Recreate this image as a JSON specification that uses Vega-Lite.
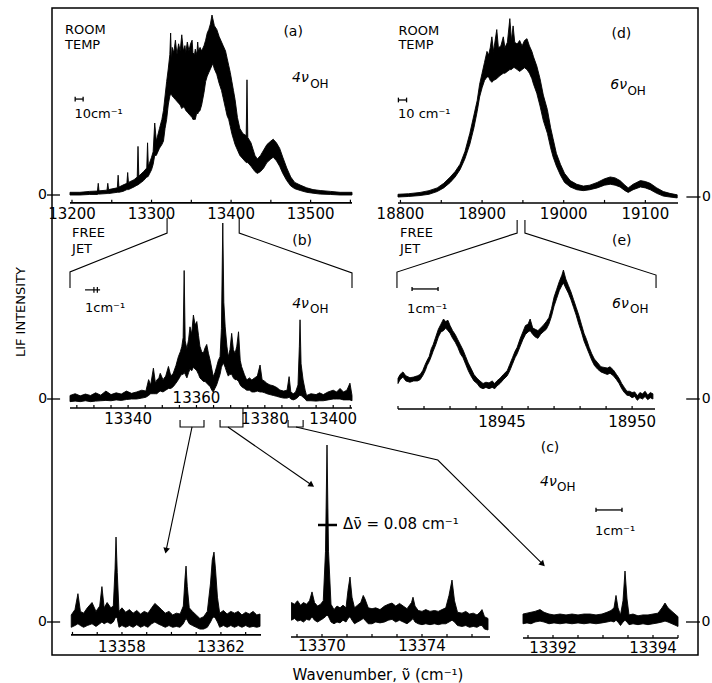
{
"$schema":"https://vega.github.io/schema/vega-lite/v6.json",
"width":646,"height":647,"autosize":"none",
"padding":{"left":52,"top":8,"right":14,"bottom":28},
"background":"white",
"config":{"view":{"stroke":"black","strokeWidth":1.5},"mark":{"color":"black"},"text":{"font":"DejaVu Sans","fontSize":14,"color":"black"},"rule":{"color":"black"}},
"data":{"values":[{}]},
"datasets":{
"a":[{"x":13197.5,"lo":0,"hi":1.5},{"x":13210,"lo":0,"hi":1.5},{"x":13222,"lo":0.3,"hi":2},{"x":13232,"lo":0.3,"hi":2.2},{"x":13233,"lo":0.5,"hi":6.5},{"x":13234,"lo":0.5,"hi":2.3},{"x":13244,"lo":0.8,"hi":2.7},{"x":13245,"lo":0.8,"hi":6.5},{"x":13246,"lo":0.8,"hi":3},{"x":13257,"lo":1.5,"hi":4},{"x":13258,"lo":1.5,"hi":11},{"x":13259,"lo":1.5,"hi":4.4},{"x":13264,"lo":2,"hi":5.5},{"x":13269,"lo":3,"hi":6.5},{"x":13270,"lo":3,"hi":12.5},{"x":13271,"lo":3,"hi":7},{"x":13278,"lo":4.5,"hi":8.5},{"x":13282,"lo":5.5,"hi":10},{"x":13283,"lo":5.5,"hi":27},{"x":13284,"lo":6,"hi":10.5},{"x":13290,"lo":8,"hi":13},{"x":13294,"lo":10,"hi":15},{"x":13295,"lo":10,"hi":29},{"x":13296,"lo":10.5,"hi":16},{"x":13300,"lo":14,"hi":21},{"x":13302,"lo":17,"hi":24},{"x":13304,"lo":22,"hi":40},{"x":13306,"lo":22,"hi":30},{"x":13310,"lo":26,"hi":37},{"x":13313,"lo":28,"hi":42},{"x":13315,"lo":30,"hi":47},{"x":13317,"lo":37,"hi":55},{"x":13319,"lo":42,"hi":63},{"x":13321,"lo":50,"hi":70},{"x":13323,"lo":55,"hi":78},{"x":13324,"lo":56,"hi":90},{"x":13325,"lo":56,"hi":75},{"x":13326,"lo":55,"hi":82},{"x":13328,"lo":54,"hi":79},{"x":13330,"lo":53,"hi":86},{"x":13332,"lo":52,"hi":78},{"x":13334,"lo":51,"hi":84},{"x":13336,"lo":50,"hi":80},{"x":13338,"lo":48,"hi":89},{"x":13340,"lo":49,"hi":80},{"x":13342,"lo":48,"hi":83},{"x":13343,"lo":47,"hi":79},{"x":13345,"lo":46,"hi":85},{"x":13347,"lo":45,"hi":80},{"x":13349,"lo":44,"hi":84},{"x":13351,"lo":43,"hi":86},{"x":13352,"lo":42,"hi":79},{"x":13354,"lo":42,"hi":78},{"x":13355,"lo":42,"hi":81},{"x":13357,"lo":46,"hi":78},{"x":13358,"lo":45,"hi":85},{"x":13359,"lo":46,"hi":80},{"x":13361,"lo":47,"hi":82},{"x":13363,"lo":50,"hi":80},{"x":13366,"lo":57,"hi":83},{"x":13368,"lo":63,"hi":86},{"x":13370,"lo":66,"hi":90},{"x":13372,"lo":68,"hi":92},{"x":13374,"lo":70,"hi":95},{"x":13376,"lo":72,"hi":100},{"x":13377,"lo":73,"hi":98},{"x":13379,"lo":70,"hi":94},{"x":13382,"lo":67,"hi":92},{"x":13385,"lo":62,"hi":88},{"x":13388,"lo":58,"hi":85},{"x":13390,"lo":54,"hi":83},{"x":13393,"lo":48,"hi":80},{"x":13395,"lo":44,"hi":76},{"x":13397,"lo":42,"hi":72},{"x":13399,"lo":38,"hi":68},{"x":13401,"lo":34,"hi":63},{"x":13403,"lo":31,"hi":58},{"x":13405,"lo":28,"hi":53},{"x":13408,"lo":25,"hi":43},{"x":13411,"lo":22,"hi":37},{"x":13415,"lo":20,"hi":34},{"x":13419,"lo":18,"hi":33},{"x":13420,"lo":18,"hi":64},{"x":13421,"lo":18,"hi":32},{"x":13425,"lo":16,"hi":29},{"x":13430,"lo":13,"hi":22},{"x":13433,"lo":12,"hi":20},{"x":13437,"lo":13,"hi":22},{"x":13441,"lo":15,"hi":25},{"x":13445,"lo":18,"hi":28},{"x":13450,"lo":20,"hi":30},{"x":13453,"lo":21,"hi":31},{"x":13457,"lo":19,"hi":29},{"x":13461,"lo":16,"hi":26},{"x":13465,"lo":12,"hi":21},{"x":13470,"lo":8,"hi":15},{"x":13475,"lo":5,"hi":10},{"x":13480,"lo":3.5,"hi":7},{"x":13487,"lo":2.5,"hi":5.5},{"x":13495,"lo":1.5,"hi":4},{"x":13503,"lo":1,"hi":3},{"x":13512,"lo":0.5,"hi":2.5},{"x":13525,"lo":0.3,"hi":2},{"x":13537,"lo":0,"hi":1.5},{"x":13552,"lo":0,"hi":1.5}],
"d":[{"x":18797,"lo":0,"hi":1.5},{"x":18810,"lo":0.3,"hi":1.8},{"x":18824,"lo":0.8,"hi":2.5},{"x":18835,"lo":1.5,"hi":3.5},{"x":18845,"lo":3,"hi":5},{"x":18853,"lo":5,"hi":7.5},{"x":18861,"lo":8,"hi":11},{"x":18867,"lo":11,"hi":14},{"x":18873,"lo":15,"hi":18},{"x":18879,"lo":21,"hi":25},{"x":18885,"lo":29,"hi":35},{"x":18890,"lo":38,"hi":45},{"x":18894,"lo":47,"hi":53},{"x":18897,"lo":55,"hi":62},{"x":18900,"lo":60,"hi":68},{"x":18903,"lo":64,"hi":74},{"x":18906,"lo":66,"hi":80},{"x":18908,"lo":66,"hi":78},{"x":18910,"lo":64,"hi":82},{"x":18912,"lo":63,"hi":88},{"x":18914,"lo":64,"hi":80},{"x":18918,"lo":65,"hi":92},{"x":18920,"lo":66,"hi":82},{"x":18923,"lo":67,"hi":83},{"x":18926,"lo":68,"hi":88},{"x":18928,"lo":68,"hi":82},{"x":18931,"lo":69,"hi":85},{"x":18934,"lo":70,"hi":98},{"x":18936,"lo":70,"hi":86},{"x":18938,"lo":71,"hi":94},{"x":18940,"lo":71,"hi":85},{"x":18943,"lo":70,"hi":84},{"x":18946,"lo":69,"hi":86},{"x":18949,"lo":70,"hi":83},{"x":18952,"lo":71,"hi":86},{"x":18955,"lo":70,"hi":87},{"x":18958,"lo":68,"hi":83},{"x":18961,"lo":65,"hi":80},{"x":18963,"lo":62,"hi":77},{"x":18967,"lo":57,"hi":72},{"x":18971,"lo":50,"hi":65},{"x":18975,"lo":42,"hi":56},{"x":18980,"lo":35,"hi":48},{"x":18984,"lo":27,"hi":38},{"x":18987,"lo":22,"hi":32},{"x":18991,"lo":17,"hi":24},{"x":18996,"lo":12,"hi":18},{"x":19001,"lo":8,"hi":13},{"x":19008,"lo":5.5,"hi":9},{"x":19016,"lo":4,"hi":7},{"x":19024,"lo":3.5,"hi":6},{"x":19032,"lo":4,"hi":6.5},{"x":19041,"lo":5,"hi":8},{"x":19050,"lo":6.5,"hi":10},{"x":19057,"lo":7,"hi":11},{"x":19063,"lo":6.5,"hi":10.5},{"x":19069,"lo":5.5,"hi":9},{"x":19075,"lo":3.5,"hi":6.5},{"x":19079,"lo":2.5,"hi":5},{"x":19085,"lo":4,"hi":7},{"x":19094,"lo":5.5,"hi":9},{"x":19100,"lo":5,"hi":8.5},{"x":19106,"lo":4,"hi":7.5},{"x":19114,"lo":2,"hi":5},{"x":19122,"lo":0.5,"hi":3},{"x":19130,"lo":0,"hi":2},{"x":19139,"lo":-0.5,"hi":1.2}],
"b":[{"x":13323,"lo":-1.5,"hi":2},{"x":13324.5,"lo":-1.2,"hi":3},{"x":13326,"lo":-1.5,"hi":1.8},{"x":13327.5,"lo":-1,"hi":2.8},{"x":13329,"lo":-1.5,"hi":2},{"x":13330.5,"lo":-1.2,"hi":3.5},{"x":13332,"lo":-1,"hi":2.2},{"x":13333.5,"lo":-0.8,"hi":4.5},{"x":13335,"lo":-1,"hi":2.5},{"x":13336.5,"lo":-0.5,"hi":3.5},{"x":13338,"lo":-0.8,"hi":2.8},{"x":13339.5,"lo":-0.3,"hi":4.5},{"x":13341,"lo":0,"hi":3.2},{"x":13342.5,"lo":0,"hi":4},{"x":13344,"lo":0.5,"hi":5},{"x":13345.2,"lo":1,"hi":4.5},{"x":13346,"lo":2,"hi":11},{"x":13346.6,"lo":3,"hi":8},{"x":13347.4,"lo":3,"hi":17.5},{"x":13348,"lo":3,"hi":9},{"x":13348.4,"lo":3,"hi":10.8},{"x":13349,"lo":4,"hi":12},{"x":13349.4,"lo":4.5,"hi":14.6},{"x":13350.2,"lo":4,"hi":11},{"x":13351,"lo":5,"hi":13},{"x":13351.8,"lo":6,"hi":18.5},{"x":13352.5,"lo":6,"hi":13},{"x":13353.2,"lo":7,"hi":14.6},{"x":13354,"lo":9,"hi":19},{"x":13354.7,"lo":11,"hi":24},{"x":13355.3,"lo":13,"hi":27},{"x":13355.7,"lo":14,"hi":29.7},{"x":13356.1,"lo":14,"hi":35},{"x":13356.4,"lo":15,"hi":73},{"x":13356.7,"lo":14,"hi":33},{"x":13357.2,"lo":12,"hi":28.5},{"x":13357.7,"lo":15,"hi":34},{"x":13358.1,"lo":17,"hi":41},{"x":13358.6,"lo":16,"hi":37},{"x":13359.1,"lo":18,"hi":47.7},{"x":13359.6,"lo":17,"hi":42},{"x":13360.1,"lo":16,"hi":44},{"x":13360.6,"lo":14,"hi":36},{"x":13361,"lo":12,"hi":30},{"x":13361.5,"lo":11,"hi":27},{"x":13362,"lo":10,"hi":26},{"x":13362.5,"lo":10,"hi":29},{"x":13363,"lo":9,"hi":31},{"x":13363.5,"lo":8,"hi":26},{"x":13364,"lo":7,"hi":22},{"x":13364.5,"lo":5,"hi":17},{"x":13364.9,"lo":4,"hi":12.7},{"x":13365.4,"lo":6,"hi":15},{"x":13365.9,"lo":8,"hi":18.4},{"x":13366.4,"lo":11,"hi":22},{"x":13366.9,"lo":14,"hi":24},{"x":13367.3,"lo":18,"hi":40},{"x":13367.7,"lo":20,"hi":100},{"x":13368,"lo":20,"hi":55},{"x":13368.4,"lo":18,"hi":41},{"x":13368.9,"lo":15,"hi":30},{"x":13369.3,"lo":13,"hi":24},{"x":13369.8,"lo":14,"hi":28},{"x":13370.3,"lo":14,"hi":37.3},{"x":13370.8,"lo":12,"hi":28},{"x":13371.3,"lo":11,"hi":26},{"x":13371.8,"lo":11,"hi":30},{"x":13372.3,"lo":10,"hi":38.2},{"x":13372.8,"lo":8,"hi":22},{"x":13373.2,"lo":7,"hi":18.4},{"x":13374,"lo":6,"hi":14},{"x":13374.7,"lo":5,"hi":10.8},{"x":13375.5,"lo":5,"hi":12},{"x":13376.2,"lo":4,"hi":10.8},{"x":13377,"lo":4,"hi":12},{"x":13377.8,"lo":4.5,"hi":13},{"x":13378.6,"lo":4,"hi":19.3},{"x":13379.2,"lo":4,"hi":11},{"x":13380,"lo":3.5,"hi":10},{"x":13380.6,"lo":3,"hi":8.9},{"x":13381.5,"lo":2.5,"hi":8},{"x":13382.5,"lo":2,"hi":7.5},{"x":13383.5,"lo":1.5,"hi":6.5},{"x":13384.4,"lo":1,"hi":5.1},{"x":13385.5,"lo":0.5,"hi":4.5},{"x":13386.5,"lo":0.5,"hi":5},{"x":13387.1,"lo":1,"hi":12.7},{"x":13387.6,"lo":0,"hi":4},{"x":13388.3,"lo":-0.5,"hi":3},{"x":13389,"lo":0,"hi":4},{"x":13389.7,"lo":1,"hi":8},{"x":13390.1,"lo":2,"hi":30},{"x":13390.3,"lo":2,"hi":45},{"x":13390.6,"lo":2,"hi":20},{"x":13391.2,"lo":1,"hi":10.8},{"x":13391.8,"lo":0,"hi":5},{"x":13392.2,"lo":-1,"hi":2},{"x":13393.5,"lo":-1,"hi":3},{"x":13395,"lo":-1.2,"hi":2.5},{"x":13396,"lo":-1,"hi":3.5},{"x":13397.1,"lo":-1,"hi":2.5},{"x":13398.5,"lo":-0.5,"hi":4},{"x":13400,"lo":0,"hi":5},{"x":13401,"lo":0,"hi":4},{"x":13402,"lo":0,"hi":6},{"x":13403,"lo":-0.5,"hi":4},{"x":13404,"lo":-0.5,"hi":5},{"x":13404.9,"lo":-0.5,"hi":9},{"x":13405.5,"lo":-1,"hi":2}],
"e":[{"x":18941,"lo":12,"hi":16},{"x":18941.08,"lo":15,"hi":19},{"x":18941.19,"lo":17,"hi":21},{"x":18941.3,"lo":14,"hi":18},{"x":18941.46,"lo":13,"hi":16.5},{"x":18941.6,"lo":14,"hi":17},{"x":18941.75,"lo":14,"hi":18},{"x":18941.85,"lo":15,"hi":19},{"x":18941.95,"lo":18,"hi":22},{"x":18942.05,"lo":22,"hi":27},{"x":18942.12,"lo":26,"hi":30},{"x":18942.2,"lo":29,"hi":33},{"x":18942.28,"lo":33,"hi":39},{"x":18942.35,"lo":37,"hi":42},{"x":18942.45,"lo":42,"hi":48},{"x":18942.55,"lo":48,"hi":54},{"x":18942.65,"lo":52,"hi":58},{"x":18942.75,"lo":53,"hi":62},{"x":18942.83,"lo":55,"hi":60},{"x":18942.92,"lo":53,"hi":61},{"x":18943,"lo":51,"hi":57},{"x":18943.1,"lo":47,"hi":53},{"x":18943.2,"lo":44,"hi":50},{"x":18943.3,"lo":40,"hi":46},{"x":18943.4,"lo":35,"hi":42},{"x":18943.5,"lo":32,"hi":38},{"x":18943.6,"lo":27,"hi":33},{"x":18943.7,"lo":22,"hi":28},{"x":18943.8,"lo":18,"hi":24},{"x":18943.92,"lo":14,"hi":19},{"x":18944.04,"lo":12,"hi":16},{"x":18944.15,"lo":9,"hi":14},{"x":18944.27,"lo":8,"hi":12},{"x":18944.38,"lo":9,"hi":13},{"x":18944.5,"lo":8,"hi":12.5},{"x":18944.62,"lo":9,"hi":14},{"x":18944.72,"lo":8,"hi":12},{"x":18944.8,"lo":10,"hi":14},{"x":18944.92,"lo":12,"hi":16},{"x":18945.05,"lo":15,"hi":19},{"x":18945.2,"lo":18,"hi":22},{"x":18945.3,"lo":22,"hi":27},{"x":18945.4,"lo":27,"hi":32},{"x":18945.5,"lo":32,"hi":37},{"x":18945.58,"lo":35,"hi":40},{"x":18945.7,"lo":41,"hi":47},{"x":18945.8,"lo":46,"hi":52},{"x":18945.9,"lo":50,"hi":57},{"x":18946,"lo":52,"hi":58},{"x":18946.08,"lo":53,"hi":62},{"x":18946.18,"lo":50,"hi":55},{"x":18946.28,"lo":48,"hi":54},{"x":18946.38,"lo":47,"hi":53},{"x":18946.48,"lo":50,"hi":55},{"x":18946.58,"lo":52,"hi":57},{"x":18946.7,"lo":54,"hi":60},{"x":18946.8,"lo":58,"hi":63},{"x":18946.9,"lo":64,"hi":70},{"x":18947,"lo":72,"hi":79},{"x":18947.1,"lo":78,"hi":85},{"x":18947.2,"lo":84,"hi":91},{"x":18947.3,"lo":88,"hi":96},{"x":18947.36,"lo":90,"hi":100},{"x":18947.45,"lo":86,"hi":93},{"x":18947.55,"lo":82,"hi":88},{"x":18947.65,"lo":77,"hi":83},{"x":18947.75,"lo":71,"hi":77},{"x":18947.85,"lo":65,"hi":71},{"x":18947.95,"lo":58,"hi":65},{"x":18948.05,"lo":52,"hi":58},{"x":18948.15,"lo":45,"hi":51},{"x":18948.25,"lo":40,"hi":46},{"x":18948.35,"lo":35,"hi":40},{"x":18948.45,"lo":30,"hi":35},{"x":18948.55,"lo":26,"hi":31},{"x":18948.68,"lo":23,"hi":28},{"x":18948.8,"lo":21,"hi":25},{"x":18948.92,"lo":20,"hi":24.5},{"x":18949.05,"lo":19,"hi":24},{"x":18949.15,"lo":20,"hi":25},{"x":18949.28,"lo":18,"hi":22.5},{"x":18949.4,"lo":15,"hi":19},{"x":18949.5,"lo":12,"hi":16},{"x":18949.6,"lo":8,"hi":12},{"x":18949.7,"lo":5,"hi":9},{"x":18949.8,"lo":3,"hi":6},{"x":18949.9,"lo":2.5,"hi":6},{"x":18950,"lo":1,"hi":5},{"x":18950.1,"lo":2,"hi":5.5},{"x":18950.2,"lo":-1,"hi":2.5},{"x":18950.3,"lo":1,"hi":5},{"x":18950.4,"lo":0,"hi":4},{"x":18950.5,"lo":2,"hi":6},{"x":18950.6,"lo":-0.5,"hi":3},{"x":18950.7,"lo":1,"hi":5},{"x":18950.8,"lo":0,"hi":4}],
"c1":[{"x":13355.95,"lo":-3,"hi":4},{"x":13356.1,"lo":-2,"hi":7},{"x":13356.22,"lo":-1,"hi":16},{"x":13356.32,"lo":-2,"hi":6},{"x":13356.45,"lo":-3,"hi":5},{"x":13356.6,"lo":-2,"hi":8},{"x":13356.79,"lo":-1,"hi":11},{"x":13356.95,"lo":-2.5,"hi":6},{"x":13357.1,"lo":-1,"hi":9},{"x":13357.19,"lo":0,"hi":20},{"x":13357.28,"lo":-1,"hi":8},{"x":13357.4,"lo":0,"hi":11},{"x":13357.55,"lo":-1,"hi":8},{"x":13357.65,"lo":0,"hi":9},{"x":13357.72,"lo":2,"hi":30},{"x":13357.76,"lo":3,"hi":48},{"x":13357.81,"lo":2,"hi":28},{"x":13357.88,"lo":-3,"hi":6},{"x":13358,"lo":-2,"hi":8},{"x":13358.15,"lo":-3,"hi":5.5},{"x":13358.3,"lo":-2,"hi":7},{"x":13358.45,"lo":-3,"hi":5},{"x":13358.6,"lo":-1.5,"hi":6.5},{"x":13358.75,"lo":-3,"hi":4.5},{"x":13358.9,"lo":-2,"hi":6},{"x":13359.05,"lo":-3,"hi":5},{"x":13359.2,"lo":-1,"hi":8},{"x":13359.33,"lo":0,"hi":10.5},{"x":13359.45,"lo":-1,"hi":9},{"x":13359.6,"lo":-2,"hi":7},{"x":13359.75,"lo":-3,"hi":5},{"x":13359.9,"lo":-2,"hi":6},{"x":13360.05,"lo":-3,"hi":4},{"x":13360.2,"lo":-2.5,"hi":5},{"x":13360.35,"lo":-3,"hi":4.5},{"x":13360.48,"lo":-1,"hi":9},{"x":13360.55,"lo":1,"hi":25},{"x":13360.59,"lo":2,"hi":31.6},{"x":13360.64,"lo":1,"hi":20},{"x":13360.72,"lo":-1,"hi":8},{"x":13360.85,"lo":-2,"hi":6},{"x":13361,"lo":-3,"hi":4},{"x":13361.15,"lo":-4,"hi":2},{"x":13361.3,"lo":-4,"hi":3},{"x":13361.45,"lo":-3,"hi":6},{"x":13361.58,"lo":0,"hi":22},{"x":13361.65,"lo":2,"hi":35},{"x":13361.72,"lo":3,"hi":39.5},{"x":13361.78,"lo":2,"hi":30},{"x":13361.86,"lo":0,"hi":14},{"x":13361.95,"lo":-3,"hi":5},{"x":13362.1,"lo":-2,"hi":6.5},{"x":13362.25,"lo":-3,"hi":4.5},{"x":13362.4,"lo":-2,"hi":6},{"x":13362.55,"lo":-3,"hi":5},{"x":13362.7,"lo":-2,"hi":6},{"x":13362.85,"lo":-3,"hi":4},{"x":13363,"lo":-2,"hi":5.5},{"x":13363.15,"lo":-3,"hi":4.5},{"x":13363.3,"lo":-2.5,"hi":6},{"x":13363.45,"lo":-3,"hi":4},{"x":13363.58,"lo":-2.5,"hi":4.5}],
"c2":[{"x":13368.78,"lo":1,"hi":11},{"x":13368.9,"lo":2,"hi":10},{"x":13369.02,"lo":0.5,"hi":12},{"x":13369.14,"lo":1,"hi":9.5},{"x":13369.26,"lo":0,"hi":11},{"x":13369.38,"lo":1.5,"hi":10},{"x":13369.5,"lo":1,"hi":12},{"x":13369.6,"lo":3,"hi":17},{"x":13369.7,"lo":1,"hi":11},{"x":13369.82,"lo":0,"hi":9},{"x":13369.94,"lo":1,"hi":10},{"x":13370.05,"lo":2,"hi":12},{"x":13370.14,"lo":3,"hi":40},{"x":13370.2,"lo":4,"hi":100},{"x":13370.26,"lo":3,"hi":40},{"x":13370.36,"lo":0,"hi":10},{"x":13370.48,"lo":-1,"hi":7},{"x":13370.6,"lo":0,"hi":9},{"x":13370.72,"lo":-0.5,"hi":8},{"x":13370.84,"lo":1,"hi":9.5},{"x":13370.96,"lo":0,"hi":8},{"x":13371.04,"lo":2,"hi":18},{"x":13371.12,"lo":3,"hi":25.4},{"x":13371.2,"lo":1,"hi":14},{"x":13371.3,"lo":-1,"hi":8},{"x":13371.42,"lo":0,"hi":9.5},{"x":13371.55,"lo":1,"hi":11},{"x":13371.65,"lo":2,"hi":15},{"x":13371.72,"lo":1,"hi":13},{"x":13371.85,"lo":-1,"hi":8},{"x":13372,"lo":-1,"hi":7.5},{"x":13372.15,"lo":0,"hi":8},{"x":13372.32,"lo":-0.5,"hi":7},{"x":13372.5,"lo":0,"hi":9},{"x":13372.65,"lo":1,"hi":10},{"x":13372.8,"lo":1.5,"hi":10.7},{"x":13372.95,"lo":0,"hi":9},{"x":13373.1,"lo":1,"hi":10.5},{"x":13373.25,"lo":0,"hi":9},{"x":13373.4,"lo":-1,"hi":7.5},{"x":13373.58,"lo":1,"hi":11},{"x":13373.64,"lo":2,"hi":14},{"x":13373.72,"lo":0,"hi":9},{"x":13373.85,"lo":-1,"hi":6.5},{"x":13374,"lo":-1.5,"hi":6},{"x":13374.15,"lo":-1,"hi":7},{"x":13374.32,"lo":-1.5,"hi":6},{"x":13374.5,"lo":-1,"hi":6.5},{"x":13374.65,"lo":-1.5,"hi":6},{"x":13374.8,"lo":-1,"hi":7},{"x":13374.95,"lo":-1,"hi":8},{"x":13375.08,"lo":0,"hi":15},{"x":13375.2,"lo":1,"hi":23.7},{"x":13375.3,"lo":0,"hi":12},{"x":13375.42,"lo":-2,"hi":5.5},{"x":13375.6,"lo":-2.5,"hi":5},{"x":13375.75,"lo":-2,"hi":6},{"x":13375.9,"lo":-3,"hi":4.5},{"x":13376.05,"lo":-2.5,"hi":5},{"x":13376.2,"lo":-3,"hi":4},{"x":13376.32,"lo":-2,"hi":5.5},{"x":13376.4,"lo":-2,"hi":7},{"x":13376.5,"lo":-4,"hi":3},{"x":13376.64,"lo":-4.5,"hi":2}],
"c3":[{"x":13391.4,"lo":-1,"hi":4.5},{"x":13391.48,"lo":-0.5,"hi":5},{"x":13391.56,"lo":-1,"hi":5.5},{"x":13391.64,"lo":0,"hi":6},{"x":13391.74,"lo":0.5,"hi":7},{"x":13391.82,"lo":0,"hi":5.5},{"x":13391.92,"lo":-1,"hi":4.5},{"x":13392.02,"lo":-0.5,"hi":4},{"x":13392.14,"lo":-1,"hi":4.5},{"x":13392.26,"lo":-0.5,"hi":4},{"x":13392.38,"lo":-1,"hi":4.5},{"x":13392.5,"lo":-0.5,"hi":4},{"x":13392.62,"lo":-1,"hi":4.5},{"x":13392.74,"lo":-0.5,"hi":4.5},{"x":13392.86,"lo":-1,"hi":4},{"x":13392.98,"lo":-0.5,"hi":4.5},{"x":13393.08,"lo":0,"hi":5.5},{"x":13393.16,"lo":0.5,"hi":6.5},{"x":13393.22,"lo":0,"hi":8},{"x":13393.26,"lo":1,"hi":15},{"x":13393.3,"lo":0,"hi":8},{"x":13393.35,"lo":-2,"hi":4},{"x":13393.4,"lo":0,"hi":12},{"x":13393.44,"lo":1,"hi":28.8},{"x":13393.48,"lo":0,"hi":13},{"x":13393.52,"lo":-1.5,"hi":4},{"x":13393.6,"lo":-1,"hi":4.5},{"x":13393.7,"lo":-1.5,"hi":3.5},{"x":13393.8,"lo":-1,"hi":4},{"x":13393.9,"lo":-1.5,"hi":4},{"x":13394,"lo":-1,"hi":4.5},{"x":13394.1,"lo":-0.5,"hi":5},{"x":13394.18,"lo":0,"hi":8},{"x":13394.24,"lo":0.5,"hi":10.7},{"x":13394.3,"lo":0,"hi":8},{"x":13394.38,"lo":-1,"hi":6},{"x":13394.46,"lo":-2,"hi":4},{"x":13394.5,"lo":-2.5,"hi":3}],
"bconn":[{"g":"L","o":1,"x":13351.4,"y":102.8},{"g":"L","o":2,"x":13351.4,"y":94.3},{"g":"L","o":3,"x":13323,"y":72.2},{"g":"L","o":4,"x":13323,"y":63},{"g":"R","o":1,"x":13372.5,"y":102.8},{"g":"R","o":2,"x":13372.5,"y":94.3},{"g":"R","o":3,"x":13405.5,"y":71.6},{"g":"R","o":4,"x":13405.5,"y":63},{"g":"k1","o":1,"x":13355.2,"y":-11.9},{"g":"k1","o":2,"x":13355.2,"y":-15.9},{"g":"k1","o":3,"x":13362.2,"y":-15.9},{"g":"k1","o":4,"x":13362.2,"y":-11.9},{"g":"k2","o":1,"x":13366.9,"y":-11.9},{"g":"k2","o":2,"x":13366.9,"y":-15.9},{"g":"k2","o":3,"x":13373.6,"y":-15.9},{"g":"k2","o":4,"x":13373.6,"y":-5.1},{"g":"k3","o":1,"x":13386.8,"y":-11.9},{"g":"k3","o":2,"x":13386.8,"y":-15.9},{"g":"k3","o":3,"x":13391.2,"y":-15.9},{"g":"k3","o":4,"x":13391.2,"y":-11.9},{"g":"a1","o":1,"x":13358.7,"y":-15.9},{"g":"a1","o":2,"x":13351.1,"y":-86.2},{"g":"a2","o":1,"x":13369.2,"y":-15.9},{"g":"a2","o":2,"x":13393.7,"y":-48.9},{"g":"a3","o":1,"x":13389.1,"y":-15.9},{"g":"a3","o":2,"x":13430.6,"y":-34.7},{"g":"a3","o":3,"x":13461.3,"y":-93.8}],
"econn":[{"g":"L","o":1,"x":18945.58,"y":138.8},{"g":"L","o":2,"x":18945.58,"y":128.7},{"g":"L","o":3,"x":18940.96,"y":98.4},{"g":"L","o":4,"x":18940.96,"y":86},{"g":"R","o":1,"x":18945.88,"y":138.8},{"g":"R","o":2,"x":18945.88,"y":128.7},{"g":"R","o":3,"x":18950.92,"y":96.1},{"g":"R","o":4,"x":18950.92,"y":86}]
},
"resolve":{"scale":{"x":"independent","y":"independent"}},
"layer":[
{"layer":[
 {"data":{"name":"a"},"mark":{"type":"area","stroke":"black","strokeWidth":0.9},"encoding":{"x":{"field":"x","type":"quantitative","scale":{"domain":[13197.5,13552],"range":[18,300],"nice":false,"zero":false},"axis":null},"y":{"field":"hi","type":"quantitative","scale":{"domain":[0,100],"range":[187,7],"nice":false,"zero":false},"axis":null},"y2":{"field":"lo"}}},
 {"mark":{"type":"rule","strokeWidth":1.6},"encoding":{"x":{"datum":13197.5,"type":"quantitative","scale":{"domain":[13197.5,13552],"range":[18,300],"nice":false,"zero":false},"axis":null},"x2":{"datum":13552},"y":{"datum":-4.4,"type":"quantitative","scale":{"domain":[0,100],"range":[187,7],"nice":false,"zero":false},"axis":null}}},
 {"data":{"values":[{"t":13200},{"t":13250},{"t":13300},{"t":13350},{"t":13400},{"t":13450},{"t":13500},{"t":13550}]},"mark":{"type":"rule","strokeWidth":1.2},"encoding":{"x":{"field":"t","type":"quantitative","scale":{"domain":[13197.5,13552],"range":[18,300],"nice":false,"zero":false},"axis":null},"y":{"datum":-4.4,"type":"quantitative","scale":{"domain":[0,100],"range":[187,7],"nice":false,"zero":false},"axis":null},"y2":{"datum":-2.6}}},
 {"data":{"values":[{"t":13200,"l":"13200"},{"t":13300,"l":"13300"},{"t":13400,"l":"13400"},{"t":13500,"l":"13500"}]},"mark":{"type":"text","baseline":"middle","align":"center","fontSize":15},"encoding":{"x":{"field":"t","type":"quantitative","scale":{"domain":[13197.5,13552],"range":[18,300],"nice":false,"zero":false},"axis":null},"y":{"datum":-10.8,"type":"quantitative","scale":{"domain":[0,100],"range":[187,7],"nice":false,"zero":false},"axis":null},"text":{"field":"l"}}},
 {"mark":{"type":"text","text":"ROOM","align":"left","baseline":"middle","fontSize":13},"encoding":{"x":{"datum":13191.2,"type":"quantitative","scale":{"domain":[13197.5,13552],"range":[18,300],"nice":false,"zero":false},"axis":null},"y":{"datum":91.4,"type":"quantitative","scale":{"domain":[0,100],"range":[187,7],"nice":false,"zero":false},"axis":null}}},
 {"mark":{"type":"text","text":"TEMP","align":"left","baseline":"middle","fontSize":13},"encoding":{"x":{"datum":13191.2,"type":"quantitative","scale":{"domain":[13197.5,13552],"range":[18,300],"nice":false,"zero":false},"axis":null},"y":{"datum":83.6,"type":"quantitative","scale":{"domain":[0,100],"range":[187,7],"nice":false,"zero":false},"axis":null}}},
 {"mark":{"type":"rule","strokeWidth":1.3},"encoding":{"x":{"datum":13204,"type":"quantitative","scale":{"domain":[13197.5,13552],"range":[18,300],"nice":false,"zero":false},"axis":null},"x2":{"datum":13214},"y":{"datum":53.3,"type":"quantitative","scale":{"domain":[0,100],"range":[187,7],"nice":false,"zero":false},"axis":null}}},
 {"data":{"values":[{"t":13204},{"t":13214}]},"mark":{"type":"rule","strokeWidth":1.3},"encoding":{"x":{"field":"t","type":"quantitative","scale":{"domain":[13197.5,13552],"range":[18,300],"nice":false,"zero":false},"axis":null},"y":{"datum":52,"type":"quantitative","scale":{"domain":[0,100],"range":[187,7],"nice":false,"zero":false},"axis":null},"y2":{"datum":54.6}}},
 {"mark":{"type":"text","text":"10cm⁻¹","align":"left","baseline":"alphabetic","fontSize":13},"encoding":{"x":{"datum":13203,"type":"quantitative","scale":{"domain":[13197.5,13552],"range":[18,300],"nice":false,"zero":false},"axis":null},"y":{"datum":42.8,"type":"quantitative","scale":{"domain":[0,100],"range":[187,7],"nice":false,"zero":false},"axis":null}}},
 {"mark":{"type":"text","text":"(a)","align":"center","baseline":"middle"},"encoding":{"x":{"datum":13478,"type":"quantitative","scale":{"domain":[13197.5,13552],"range":[18,300],"nice":false,"zero":false},"axis":null},"y":{"datum":90.6,"type":"quantitative","scale":{"domain":[0,100],"range":[187,7],"nice":false,"zero":false},"axis":null}}},
 {"mark":{"type":"text","text":"4ν","align":"left","baseline":"middle","fontStyle":"italic"},"encoding":{"x":{"datum":13476.7,"type":"quantitative","scale":{"domain":[13197.5,13552],"range":[18,300],"nice":false,"zero":false},"axis":null},"y":{"datum":65,"type":"quantitative","scale":{"domain":[0,100],"range":[187,7],"nice":false,"zero":false},"axis":null}}},
 {"mark":{"type":"text","text":"OH","align":"left","baseline":"middle","fontSize":12},"encoding":{"x":{"datum":13499.4,"type":"quantitative","scale":{"domain":[13197.5,13552],"range":[18,300],"nice":false,"zero":false},"axis":null},"y":{"datum":61.5,"type":"quantitative","scale":{"domain":[0,100],"range":[187,7],"nice":false,"zero":false},"axis":null}}},
 {"mark":{"type":"rule","strokeWidth":1.3},"encoding":{"x":{"datum":13168.6,"type":"quantitative","scale":{"domain":[13197.5,13552],"range":[18,300],"nice":false,"zero":false},"axis":null},"x2":{"datum":13184.9},"y":{"datum":0,"type":"quantitative","scale":{"domain":[0,100],"range":[187,7],"nice":false,"zero":false},"axis":null}}},
 {"mark":{"type":"text","text":"0","align":"center","baseline":"middle"},"encoding":{"x":{"datum":13162.9,"type":"quantitative","scale":{"domain":[13197.5,13552],"range":[18,300],"nice":false,"zero":false},"axis":null},"y":{"datum":0,"type":"quantitative","scale":{"domain":[0,100],"range":[187,7],"nice":false,"zero":false},"axis":null}}}
]},
{"layer":[
 {"data":{"name":"d"},"mark":{"type":"area","stroke":"black","strokeWidth":0.9},"encoding":{"x":{"field":"x","type":"quantitative","scale":{"domain":[18797,19140],"range":[346,626],"nice":false,"zero":false},"axis":null},"y":{"field":"hi","type":"quantitative","scale":{"domain":[0,100],"range":[189,7],"nice":false,"zero":false},"axis":null},"y2":{"field":"lo"}}},
 {"mark":{"type":"rule","strokeWidth":1.6},"encoding":{"x":{"datum":18797,"type":"quantitative","scale":{"domain":[18797,19140],"range":[346,626],"nice":false,"zero":false},"axis":null},"x2":{"datum":19140},"y":{"datum":-3.3,"type":"quantitative","scale":{"domain":[0,100],"range":[189,7],"nice":false,"zero":false},"axis":null}}},
 {"data":{"values":[{"t":18800},{"t":18850},{"t":18900},{"t":18950},{"t":19000},{"t":19050},{"t":19100}]},"mark":{"type":"rule","strokeWidth":1.2},"encoding":{"x":{"field":"t","type":"quantitative","scale":{"domain":[18797,19140],"range":[346,626],"nice":false,"zero":false},"axis":null},"y":{"datum":-3.3,"type":"quantitative","scale":{"domain":[0,100],"range":[189,7],"nice":false,"zero":false},"axis":null},"y2":{"datum":-1.6}}},
 {"data":{"values":[{"t":18800,"l":"18800"},{"t":18900,"l":"18900"},{"t":19000,"l":"19000"},{"t":19100,"l":"19100"}]},"mark":{"type":"text","baseline":"middle","align":"center","fontSize":15},"encoding":{"x":{"field":"t","type":"quantitative","scale":{"domain":[18797,19140],"range":[346,626],"nice":false,"zero":false},"axis":null},"y":{"datum":-9.6,"type":"quantitative","scale":{"domain":[0,100],"range":[189,7],"nice":false,"zero":false},"axis":null},"text":{"field":"l"}}},
 {"mark":{"type":"text","text":"ROOM","align":"left","baseline":"middle","fontSize":13},"encoding":{"x":{"datum":18797.5,"type":"quantitative","scale":{"domain":[18797,19140],"range":[346,626],"nice":false,"zero":false},"axis":null},"y":{"datum":91.2,"type":"quantitative","scale":{"domain":[0,100],"range":[189,7],"nice":false,"zero":false},"axis":null}}},
 {"mark":{"type":"text","text":"TEMP","align":"left","baseline":"middle","fontSize":13},"encoding":{"x":{"datum":18797.5,"type":"quantitative","scale":{"domain":[18797,19140],"range":[346,626],"nice":false,"zero":false},"axis":null},"y":{"datum":83.5,"type":"quantitative","scale":{"domain":[0,100],"range":[189,7],"nice":false,"zero":false},"axis":null}}},
 {"mark":{"type":"rule","strokeWidth":1.3},"encoding":{"x":{"datum":18797.5,"type":"quantitative","scale":{"domain":[18797,19140],"range":[346,626],"nice":false,"zero":false},"axis":null},"x2":{"datum":18807.5},"y":{"datum":53.3,"type":"quantitative","scale":{"domain":[0,100],"range":[189,7],"nice":false,"zero":false},"axis":null}}},
 {"data":{"values":[{"t":18797.5},{"t":18807.5}]},"mark":{"type":"rule","strokeWidth":1.3},"encoding":{"x":{"field":"t","type":"quantitative","scale":{"domain":[18797,19140],"range":[346,626],"nice":false,"zero":false},"axis":null},"y":{"datum":52,"type":"quantitative","scale":{"domain":[0,100],"range":[189,7],"nice":false,"zero":false},"axis":null},"y2":{"datum":54.6}}},
 {"mark":{"type":"text","text":"10 cm⁻¹","align":"left","baseline":"alphabetic","fontSize":13},"encoding":{"x":{"datum":18797,"type":"quantitative","scale":{"domain":[18797,19140],"range":[346,626],"nice":false,"zero":false},"axis":null},"y":{"datum":43.4,"type":"quantitative","scale":{"domain":[0,100],"range":[189,7],"nice":false,"zero":false},"axis":null}}},
 {"mark":{"type":"text","text":"(d)","align":"center","baseline":"middle"},"encoding":{"x":{"datum":19070.6,"type":"quantitative","scale":{"domain":[18797,19140],"range":[346,626],"nice":false,"zero":false},"axis":null},"y":{"datum":89.6,"type":"quantitative","scale":{"domain":[0,100],"range":[189,7],"nice":false,"zero":false},"axis":null}}},
 {"mark":{"type":"text","text":"6ν","align":"left","baseline":"middle","fontStyle":"italic"},"encoding":{"x":{"datum":19057,"type":"quantitative","scale":{"domain":[18797,19140],"range":[346,626],"nice":false,"zero":false},"axis":null},"y":{"datum":61.5,"type":"quantitative","scale":{"domain":[0,100],"range":[189,7],"nice":false,"zero":false},"axis":null}}},
 {"mark":{"type":"text","text":"OH","align":"left","baseline":"middle","fontSize":12},"encoding":{"x":{"datum":19078,"type":"quantitative","scale":{"domain":[18797,19140],"range":[346,626],"nice":false,"zero":false},"axis":null},"y":{"datum":58.2,"type":"quantitative","scale":{"domain":[0,100],"range":[189,7],"nice":false,"zero":false},"axis":null}}},
 {"mark":{"type":"rule","strokeWidth":1.3},"encoding":{"x":{"datum":19150.3,"type":"quantitative","scale":{"domain":[18797,19140],"range":[346,626],"nice":false,"zero":false},"axis":null},"x2":{"datum":19167.5},"y":{"datum":0,"type":"quantitative","scale":{"domain":[0,100],"range":[189,7],"nice":false,"zero":false},"axis":null}}},
 {"mark":{"type":"text","text":"0","align":"center","baseline":"middle"},"encoding":{"x":{"datum":19174.8,"type":"quantitative","scale":{"domain":[18797,19140],"range":[346,626],"nice":false,"zero":false},"axis":null},"y":{"datum":0,"type":"quantitative","scale":{"domain":[0,100],"range":[189,7],"nice":false,"zero":false},"axis":null}}}
]},
{"layer":[
 {"data":{"name":"b"},"mark":{"type":"area","stroke":"black","strokeWidth":0.9},"encoding":{"x":{"field":"x","type":"quantitative","scale":{"domain":[13323,13405.5],"range":[18,300],"nice":false,"zero":false},"axis":null},"y":{"field":"hi","type":"quantitative","scale":{"domain":[0,100],"range":[391,215],"nice":false,"zero":false},"axis":null},"y2":{"field":"lo"}}},
 {"mark":{"type":"rule","strokeWidth":1.6},"encoding":{"x":{"datum":13323,"type":"quantitative","scale":{"domain":[13323,13405.5],"range":[18,300],"nice":false,"zero":false},"axis":null},"x2":{"datum":13405.5},"y":{"datum":-5.1,"type":"quantitative","scale":{"domain":[0,100],"range":[391,215],"nice":false,"zero":false},"axis":null}}},
 {"data":{"values":[{"t":13325},{"t":13330},{"t":13335},{"t":13340},{"t":13345},{"t":13350},{"t":13355},{"t":13360},{"t":13365},{"t":13370},{"t":13375},{"t":13380},{"t":13385},{"t":13390},{"t":13395},{"t":13400},{"t":13405}]},"mark":{"type":"rule","strokeWidth":1.2},"encoding":{"x":{"field":"t","type":"quantitative","scale":{"domain":[13323,13405.5],"range":[18,300],"nice":false,"zero":false},"axis":null},"y":{"datum":-5.1,"type":"quantitative","scale":{"domain":[0,100],"range":[391,215],"nice":false,"zero":false},"axis":null},"y2":{"datum":-3.4}}},
 {"data":{"values":[{"t":13340,"l":"13340"},{"t":13380,"l":"13380"},{"t":13400,"l":"13400"}]},"mark":{"type":"text","baseline":"middle","align":"center","fontSize":15},"encoding":{"x":{"field":"t","type":"quantitative","scale":{"domain":[13323,13405.5],"range":[18,300],"nice":false,"zero":false},"axis":null},"y":{"datum":-11.4,"type":"quantitative","scale":{"domain":[0,100],"range":[391,215],"nice":false,"zero":false},"axis":null},"text":{"field":"l"}}},
 {"mark":{"type":"text","text":"13360","align":"center","baseline":"middle","fontSize":15},"encoding":{"x":{"datum":13360,"type":"quantitative","scale":{"domain":[13323,13405.5],"range":[18,300],"nice":false,"zero":false},"axis":null},"y":{"datum":0.3,"type":"quantitative","scale":{"domain":[0,100],"range":[391,215],"nice":false,"zero":false},"axis":null}}},
 {"data":{"name":"bconn"},"mark":{"type":"line","strokeWidth":1.1,"color":"black"},"encoding":{"x":{"field":"x","type":"quantitative","scale":{"domain":[13323,13405.5],"range":[18,300],"nice":false,"zero":false},"axis":null},"y":{"field":"y","type":"quantitative","scale":{"domain":[0,100],"range":[391,215],"nice":false,"zero":false},"axis":null},"detail":{"field":"g"},"order":{"field":"o"}}},
 {"mark":{"type":"point","shape":"triangle-down","filled":true,"size":45,"angle":12,"opacity":1},"encoding":{"x":{"datum":13351.1,"type":"quantitative","scale":{"domain":[13323,13405.5],"range":[18,300],"nice":false,"zero":false},"axis":null},"y":{"datum":-86.2,"type":"quantitative","scale":{"domain":[0,100],"range":[391,215],"nice":false,"zero":false},"axis":null}}},
 {"mark":{"type":"point","shape":"triangle-down","filled":true,"size":45,"angle":304,"opacity":1},"encoding":{"x":{"datum":13393.7,"type":"quantitative","scale":{"domain":[13323,13405.5],"range":[18,300],"nice":false,"zero":false},"axis":null},"y":{"datum":-48.9,"type":"quantitative","scale":{"domain":[0,100],"range":[391,215],"nice":false,"zero":false},"axis":null}}},
 {"mark":{"type":"point","shape":"triangle-down","filled":true,"size":45,"angle":315,"opacity":1},"encoding":{"x":{"datum":13461.3,"type":"quantitative","scale":{"domain":[13323,13405.5],"range":[18,300],"nice":false,"zero":false},"axis":null},"y":{"datum":-93.8,"type":"quantitative","scale":{"domain":[0,100],"range":[391,215],"nice":false,"zero":false},"axis":null}}},
 {"mark":{"type":"text","text":"FREE","align":"left","baseline":"middle","fontSize":13},"encoding":{"x":{"datum":13323.6,"type":"quantitative","scale":{"domain":[13323,13405.5],"range":[18,300],"nice":false,"zero":false},"axis":null},"y":{"datum":94.3,"type":"quantitative","scale":{"domain":[0,100],"range":[391,215],"nice":false,"zero":false},"axis":null}}},
 {"mark":{"type":"text","text":"JET","align":"left","baseline":"middle","fontSize":13},"encoding":{"x":{"datum":13323.6,"type":"quantitative","scale":{"domain":[13323,13405.5],"range":[18,300],"nice":false,"zero":false},"axis":null},"y":{"datum":85.2,"type":"quantitative","scale":{"domain":[0,100],"range":[391,215],"nice":false,"zero":false},"axis":null}}},
 {"mark":{"type":"text","text":"(b)","align":"center","baseline":"middle"},"encoding":{"x":{"datum":13390.9,"type":"quantitative","scale":{"domain":[13323,13405.5],"range":[18,300],"nice":false,"zero":false},"axis":null},"y":{"datum":89.8,"type":"quantitative","scale":{"domain":[0,100],"range":[391,215],"nice":false,"zero":false},"axis":null}}},
 {"mark":{"type":"rule","strokeWidth":1.2},"encoding":{"x":{"datum":13327.4,"type":"quantitative","scale":{"domain":[13323,13405.5],"range":[18,300],"nice":false,"zero":false},"axis":null},"x2":{"datum":13331.8},"y":{"datum":62,"type":"quantitative","scale":{"domain":[0,100],"range":[391,215],"nice":false,"zero":false},"axis":null}}},
 {"data":{"values":[{"t":13330},{"t":13331}]},"mark":{"type":"rule","strokeWidth":1.2},"encoding":{"x":{"field":"t","type":"quantitative","scale":{"domain":[13323,13405.5],"range":[18,300],"nice":false,"zero":false},"axis":null},"y":{"datum":60.4,"type":"quantitative","scale":{"domain":[0,100],"range":[391,215],"nice":false,"zero":false},"axis":null},"y2":{"datum":63.6}}},
 {"mark":{"type":"text","text":"1cm⁻¹","align":"left","baseline":"alphabetic","fontSize":13},"encoding":{"x":{"datum":13327.4,"type":"quantitative","scale":{"domain":[13323,13405.5],"range":[18,300],"nice":false,"zero":false},"axis":null},"y":{"datum":49.4,"type":"quantitative","scale":{"domain":[0,100],"range":[391,215],"nice":false,"zero":false},"axis":null}}},
 {"mark":{"type":"text","text":"4ν","align":"left","baseline":"middle","fontStyle":"italic"},"encoding":{"x":{"datum":13388,"type":"quantitative","scale":{"domain":[13323,13405.5],"range":[18,300],"nice":false,"zero":false},"axis":null},"y":{"datum":54,"type":"quantitative","scale":{"domain":[0,100],"range":[391,215],"nice":false,"zero":false},"axis":null}}},
 {"mark":{"type":"text","text":"OH","align":"left","baseline":"middle","fontSize":12},"encoding":{"x":{"datum":13393.2,"type":"quantitative","scale":{"domain":[13323,13405.5],"range":[18,300],"nice":false,"zero":false},"axis":null},"y":{"datum":51,"type":"quantitative","scale":{"domain":[0,100],"range":[391,215],"nice":false,"zero":false},"axis":null}}},
 {"mark":{"type":"rule","strokeWidth":1.3},"encoding":{"x":{"datum":13316.3,"type":"quantitative","scale":{"domain":[13323,13405.5],"range":[18,300],"nice":false,"zero":false},"axis":null},"x2":{"datum":13320.1},"y":{"datum":0,"type":"quantitative","scale":{"domain":[0,100],"range":[391,215],"nice":false,"zero":false},"axis":null}}},
 {"mark":{"type":"text","text":"0","align":"center","baseline":"middle"},"encoding":{"x":{"datum":13315,"type":"quantitative","scale":{"domain":[13323,13405.5],"range":[18,300],"nice":false,"zero":false},"axis":null},"y":{"datum":0,"type":"quantitative","scale":{"domain":[0,100],"range":[391,215],"nice":false,"zero":false},"axis":null}}},
 {"mark":{"type":"text","text":"LIF  INTENSITY","align":"center","baseline":"middle","angle":270,"fontSize":13},"encoding":{"x":{"datum":13308.7,"type":"quantitative","scale":{"domain":[13323,13405.5],"range":[18,300],"nice":false,"zero":false},"axis":null},"y":{"datum":49.4,"type":"quantitative","scale":{"domain":[0,100],"range":[391,215],"nice":false,"zero":false},"axis":null}}}
]},
{"layer":[
 {"data":{"name":"e"},"mark":{"type":"area","stroke":"black","strokeWidth":0.9},"encoding":{"x":{"field":"x","type":"quantitative","scale":{"domain":[18941,18950.88],"range":[346,603],"nice":false,"zero":false},"axis":null},"y":{"field":"hi","type":"quantitative","scale":{"domain":[0,100],"range":[391,262],"nice":false,"zero":false},"axis":null},"y2":{"field":"lo"}}},
 {"mark":{"type":"rule","strokeWidth":1.6},"encoding":{"x":{"datum":18941,"type":"quantitative","scale":{"domain":[18941,18950.88],"range":[346,603],"nice":false,"zero":false},"axis":null},"x2":{"datum":18950.88},"y":{"datum":-7.8,"type":"quantitative","scale":{"domain":[0,100],"range":[391,262],"nice":false,"zero":false},"axis":null}}},
 {"data":{"values":[{"t":18941},{"t":18942},{"t":18943},{"t":18944},{"t":18945},{"t":18946},{"t":18947},{"t":18948},{"t":18949},{"t":18950}]},"mark":{"type":"rule","strokeWidth":1.2},"encoding":{"x":{"field":"t","type":"quantitative","scale":{"domain":[18941,18950.88],"range":[346,603],"nice":false,"zero":false},"axis":null},"y":{"datum":-7.8,"type":"quantitative","scale":{"domain":[0,100],"range":[391,262],"nice":false,"zero":false},"axis":null},"y2":{"datum":-5.4}}},
 {"data":{"values":[{"t":18945,"l":"18945"},{"t":18950,"l":"18950"}]},"mark":{"type":"text","baseline":"middle","align":"center","fontSize":15},"encoding":{"x":{"field":"t","type":"quantitative","scale":{"domain":[18941,18950.88],"range":[346,603],"nice":false,"zero":false},"axis":null},"y":{"datum":-17.8,"type":"quantitative","scale":{"domain":[0,100],"range":[391,262],"nice":false,"zero":false},"axis":null},"text":{"field":"l"}}},
 {"data":{"name":"econn"},"mark":{"type":"line","strokeWidth":1.1,"color":"black"},"encoding":{"x":{"field":"x","type":"quantitative","scale":{"domain":[18941,18950.88],"range":[346,603],"nice":false,"zero":false},"axis":null},"y":{"field":"y","type":"quantitative","scale":{"domain":[0,100],"range":[391,262],"nice":false,"zero":false},"axis":null},"detail":{"field":"g"},"order":{"field":"o"}}},
 {"mark":{"type":"text","text":"FREE","align":"left","baseline":"middle","fontSize":13},"encoding":{"x":{"datum":18941.08,"type":"quantitative","scale":{"domain":[18941,18950.88],"range":[346,603],"nice":false,"zero":false},"axis":null},"y":{"datum":128.7,"type":"quantitative","scale":{"domain":[0,100],"range":[391,262],"nice":false,"zero":false},"axis":null}}},
 {"mark":{"type":"text","text":"JET","align":"left","baseline":"middle","fontSize":13},"encoding":{"x":{"datum":18941.08,"type":"quantitative","scale":{"domain":[18941,18950.88],"range":[346,603],"nice":false,"zero":false},"axis":null},"y":{"datum":116.3,"type":"quantitative","scale":{"domain":[0,100],"range":[391,262],"nice":false,"zero":false},"axis":null}}},
 {"mark":{"type":"text","text":"(e)","align":"center","baseline":"middle"},"encoding":{"x":{"datum":18949.6,"type":"quantitative","scale":{"domain":[18941,18950.88],"range":[346,603],"nice":false,"zero":false},"axis":null},"y":{"datum":122.5,"type":"quantitative","scale":{"domain":[0,100],"range":[391,262],"nice":false,"zero":false},"axis":null}}},
 {"mark":{"type":"rule","strokeWidth":1.3},"encoding":{"x":{"datum":18941.54,"type":"quantitative","scale":{"domain":[18941,18950.88],"range":[346,603],"nice":false,"zero":false},"axis":null},"x2":{"datum":18942.54},"y":{"datum":85.3,"type":"quantitative","scale":{"domain":[0,100],"range":[391,262],"nice":false,"zero":false},"axis":null}}},
 {"data":{"values":[{"t":18941.54},{"t":18942.54}]},"mark":{"type":"rule","strokeWidth":1.3},"encoding":{"x":{"field":"t","type":"quantitative","scale":{"domain":[18941,18950.88],"range":[346,603],"nice":false,"zero":false},"axis":null},"y":{"datum":83.7,"type":"quantitative","scale":{"domain":[0,100],"range":[391,262],"nice":false,"zero":false},"axis":null},"y2":{"datum":86.9}}},
 {"mark":{"type":"text","text":"1cm⁻¹","align":"left","baseline":"alphabetic","fontSize":13},"encoding":{"x":{"datum":18941.35,"type":"quantitative","scale":{"domain":[18941,18950.88],"range":[346,603],"nice":false,"zero":false},"axis":null},"y":{"datum":66.7,"type":"quantitative","scale":{"domain":[0,100],"range":[391,262],"nice":false,"zero":false},"axis":null}}},
 {"mark":{"type":"text","text":"6ν","align":"left","baseline":"middle","fontStyle":"italic"},"encoding":{"x":{"datum":18949.23,"type":"quantitative","scale":{"domain":[18941,18950.88],"range":[346,603],"nice":false,"zero":false},"axis":null},"y":{"datum":73.6,"type":"quantitative","scale":{"domain":[0,100],"range":[391,262],"nice":false,"zero":false},"axis":null}}},
 {"mark":{"type":"text","text":"OH","align":"left","baseline":"middle","fontSize":12},"encoding":{"x":{"datum":18949.92,"type":"quantitative","scale":{"domain":[18941,18950.88],"range":[346,603],"nice":false,"zero":false},"axis":null},"y":{"datum":69.8,"type":"quantitative","scale":{"domain":[0,100],"range":[391,262],"nice":false,"zero":false},"axis":null}}},
 {"mark":{"type":"rule","strokeWidth":1.3},"encoding":{"x":{"datum":18952.08,"type":"quantitative","scale":{"domain":[18941,18950.88],"range":[346,603],"nice":false,"zero":false},"axis":null},"x2":{"datum":18952.6},"y":{"datum":0,"type":"quantitative","scale":{"domain":[0,100],"range":[391,262],"nice":false,"zero":false},"axis":null}}},
 {"mark":{"type":"text","text":"0","align":"center","baseline":"middle"},"encoding":{"x":{"datum":18952.85,"type":"quantitative","scale":{"domain":[18941,18950.88],"range":[346,603],"nice":false,"zero":false},"axis":null},"y":{"datum":0,"type":"quantitative","scale":{"domain":[0,100],"range":[391,262],"nice":false,"zero":false},"axis":null}}}
]},
{"layer":[
 {"data":{"name":"c1"},"mark":{"type":"area","stroke":"black","strokeWidth":0.9},"encoding":{"x":{"field":"x","type":"quantitative","scale":{"domain":[13355.94,13363.62],"range":[19,209],"nice":false,"zero":false},"axis":null},"y":{"field":"hi","type":"quantitative","scale":{"domain":[0,100],"range":[614,437],"nice":false,"zero":false},"axis":null},"y2":{"field":"lo"}}},
 {"mark":{"type":"rule","strokeWidth":1.6},"encoding":{"x":{"datum":13355.94,"type":"quantitative","scale":{"domain":[13355.94,13363.62],"range":[19,209],"nice":false,"zero":false},"axis":null},"x2":{"datum":13363.62},"y":{"datum":-7.3,"type":"quantitative","scale":{"domain":[0,100],"range":[614,437],"nice":false,"zero":false},"axis":null}}},
 {"data":{"values":[{"t":13356},{"t":13357},{"t":13358},{"t":13359},{"t":13360},{"t":13361},{"t":13362},{"t":13363}]},"mark":{"type":"rule","strokeWidth":1.2},"encoding":{"x":{"field":"t","type":"quantitative","scale":{"domain":[13355.94,13363.62],"range":[19,209],"nice":false,"zero":false},"axis":null},"y":{"datum":-7.3,"type":"quantitative","scale":{"domain":[0,100],"range":[614,437],"nice":false,"zero":false},"axis":null},"y2":{"datum":-5.6}}},
 {"data":{"values":[{"t":13358,"l":"13358"},{"t":13362,"l":"13362"}]},"mark":{"type":"text","baseline":"middle","align":"center","fontSize":15},"encoding":{"x":{"field":"t","type":"quantitative","scale":{"domain":[13355.94,13363.62],"range":[19,209],"nice":false,"zero":false},"axis":null},"y":{"datum":-14.1,"type":"quantitative","scale":{"domain":[0,100],"range":[614,437],"nice":false,"zero":false},"axis":null},"text":{"field":"l"}}},
 {"mark":{"type":"rule","strokeWidth":1.3},"encoding":{"x":{"datum":13354.97,"type":"quantitative","scale":{"domain":[13355.94,13363.62],"range":[19,209],"nice":false,"zero":false},"axis":null},"x2":{"datum":13355.5},"y":{"datum":0,"type":"quantitative","scale":{"domain":[0,100],"range":[614,437],"nice":false,"zero":false},"axis":null}}},
 {"mark":{"type":"text","text":"0","align":"center","baseline":"middle"},"encoding":{"x":{"datum":13354.79,"type":"quantitative","scale":{"domain":[13355.94,13363.62],"range":[19,209],"nice":false,"zero":false},"axis":null},"y":{"datum":0,"type":"quantitative","scale":{"domain":[0,100],"range":[614,437],"nice":false,"zero":false},"axis":null}}}
]},
{"layer":[
 {"data":{"name":"c2"},"mark":{"type":"area","stroke":"black","strokeWidth":0.9},"encoding":{"x":{"field":"x","type":"quantitative","scale":{"domain":[13368.76,13376.72],"range":[239,438],"nice":false,"zero":false},"axis":null},"y":{"field":"hi","type":"quantitative","scale":{"domain":[0,100],"range":[614,437],"nice":false,"zero":false},"axis":null},"y2":{"field":"lo"}}},
 {"mark":{"type":"rule","strokeWidth":1.6},"encoding":{"x":{"datum":13368.76,"type":"quantitative","scale":{"domain":[13368.76,13376.72],"range":[239,438],"nice":false,"zero":false},"axis":null},"x2":{"datum":13376.72},"y":{"datum":-8.5,"type":"quantitative","scale":{"domain":[0,100],"range":[614,437],"nice":false,"zero":false},"axis":null}}},
 {"data":{"values":[{"t":13369},{"t":13370},{"t":13371},{"t":13372},{"t":13373},{"t":13374},{"t":13375},{"t":13376}]},"mark":{"type":"rule","strokeWidth":1.2},"encoding":{"x":{"field":"t","type":"quantitative","scale":{"domain":[13368.76,13376.72],"range":[239,438],"nice":false,"zero":false},"axis":null},"y":{"datum":-8.5,"type":"quantitative","scale":{"domain":[0,100],"range":[614,437],"nice":false,"zero":false},"axis":null},"y2":{"datum":-6.8}}},
 {"data":{"values":[{"t":13370,"l":"13370"},{"t":13374,"l":"13374"}]},"mark":{"type":"text","baseline":"middle","align":"center","fontSize":15},"encoding":{"x":{"field":"t","type":"quantitative","scale":{"domain":[13368.76,13376.72],"range":[239,438],"nice":false,"zero":false},"axis":null},"y":{"datum":-13.6,"type":"quantitative","scale":{"domain":[0,100],"range":[614,437],"nice":false,"zero":false},"axis":null},"text":{"field":"l"}}},
 {"mark":{"type":"rule","strokeWidth":2.5},"encoding":{"x":{"datum":13369.84,"type":"quantitative","scale":{"domain":[13368.76,13376.72],"range":[239,438],"nice":false,"zero":false},"axis":null},"x2":{"datum":13370.6},"y":{"datum":54.8,"type":"quantitative","scale":{"domain":[0,100],"range":[614,437],"nice":false,"zero":false},"axis":null}}},
 {"mark":{"type":"text","text":"Δν̄ = 0.08 cm⁻¹","align":"left","baseline":"middle","fontSize":15},"encoding":{"x":{"datum":13370.84,"type":"quantitative","scale":{"domain":[13368.76,13376.72],"range":[239,438],"nice":false,"zero":false},"axis":null},"y":{"datum":55.4,"type":"quantitative","scale":{"domain":[0,100],"range":[614,437],"nice":false,"zero":false},"axis":null}}},
 {"mark":{"type":"text","text":"Wavenumber,   ν̃ (cm⁻¹)","align":"center","baseline":"middle","fontSize":15},"encoding":{"x":{"datum":13372.24,"type":"quantitative","scale":{"domain":[13368.76,13376.72],"range":[239,438],"nice":false,"zero":false},"axis":null},"y":{"datum":-30,"type":"quantitative","scale":{"domain":[0,100],"range":[614,437],"nice":false,"zero":false},"axis":null}}}
]},
{"layer":[
 {"data":{"name":"c3"},"mark":{"type":"area","stroke":"black","strokeWidth":0.9},"encoding":{"x":{"field":"x","type":"quantitative","scale":{"domain":[13391.4,13394.5],"range":[471,626],"nice":false,"zero":false},"axis":null},"y":{"field":"hi","type":"quantitative","scale":{"domain":[0,100],"range":[614,437],"nice":false,"zero":false},"axis":null},"y2":{"field":"lo"}}},
 {"mark":{"type":"rule","strokeWidth":1.6},"encoding":{"x":{"datum":13391.4,"type":"quantitative","scale":{"domain":[13391.4,13394.5],"range":[471,626],"nice":false,"zero":false},"axis":null},"x2":{"datum":13394.5},"y":{"datum":-9,"type":"quantitative","scale":{"domain":[0,100],"range":[614,437],"nice":false,"zero":false},"axis":null}}},
 {"data":{"values":[{"t":13391.5},{"t":13392},{"t":13392.5},{"t":13393},{"t":13393.5},{"t":13394},{"t":13394.5}]},"mark":{"type":"rule","strokeWidth":1.2},"encoding":{"x":{"field":"t","type":"quantitative","scale":{"domain":[13391.4,13394.5],"range":[471,626],"nice":false,"zero":false},"axis":null},"y":{"datum":-9,"type":"quantitative","scale":{"domain":[0,100],"range":[614,437],"nice":false,"zero":false},"axis":null},"y2":{"datum":-7.3}}},
 {"data":{"values":[{"t":13392,"l":"13392"},{"t":13394,"l":"13394"}]},"mark":{"type":"text","baseline":"middle","align":"center","fontSize":15},"encoding":{"x":{"field":"t","type":"quantitative","scale":{"domain":[13391.4,13394.5],"range":[471,626],"nice":false,"zero":false},"axis":null},"y":{"datum":-14.7,"type":"quantitative","scale":{"domain":[0,100],"range":[614,437],"nice":false,"zero":false},"axis":null},"text":{"field":"l"}}},
 {"mark":{"type":"text","text":"(c)","align":"center","baseline":"middle"},"encoding":{"x":{"datum":13391.94,"type":"quantitative","scale":{"domain":[13391.4,13394.5],"range":[471,626],"nice":false,"zero":false},"axis":null},"y":{"datum":98.3,"type":"quantitative","scale":{"domain":[0,100],"range":[614,437],"nice":false,"zero":false},"axis":null}}},
 {"mark":{"type":"text","text":"4ν","align":"left","baseline":"middle","fontStyle":"italic"},"encoding":{"x":{"datum":13391.74,"type":"quantitative","scale":{"domain":[13391.4,13394.5],"range":[471,626],"nice":false,"zero":false},"axis":null},"y":{"datum":79,"type":"quantitative","scale":{"domain":[0,100],"range":[614,437],"nice":false,"zero":false},"axis":null}}},
 {"mark":{"type":"text","text":"OH","align":"left","baseline":"middle","fontSize":12},"encoding":{"x":{"datum":13392.08,"type":"quantitative","scale":{"domain":[13391.4,13394.5],"range":[471,626],"nice":false,"zero":false},"axis":null},"y":{"datum":76.3,"type":"quantitative","scale":{"domain":[0,100],"range":[614,437],"nice":false,"zero":false},"axis":null}}},
 {"mark":{"type":"rule","strokeWidth":1.3},"encoding":{"x":{"datum":13392.86,"type":"quantitative","scale":{"domain":[13391.4,13394.5],"range":[471,626],"nice":false,"zero":false},"axis":null},"x2":{"datum":13393.38},"y":{"datum":63.3,"type":"quantitative","scale":{"domain":[0,100],"range":[614,437],"nice":false,"zero":false},"axis":null}}},
 {"data":{"values":[{"t":13392.86},{"t":13393.38}]},"mark":{"type":"rule","strokeWidth":1.3},"encoding":{"x":{"field":"t","type":"quantitative","scale":{"domain":[13391.4,13394.5],"range":[471,626],"nice":false,"zero":false},"axis":null},"y":{"datum":62.1,"type":"quantitative","scale":{"domain":[0,100],"range":[614,437],"nice":false,"zero":false},"axis":null},"y2":{"datum":64.5}}},
 {"mark":{"type":"text","text":"1cm⁻¹","align":"left","baseline":"alphabetic","fontSize":13},"encoding":{"x":{"datum":13392.84,"type":"quantitative","scale":{"domain":[13391.4,13394.5],"range":[471,626],"nice":false,"zero":false},"axis":null},"y":{"datum":49,"type":"quantitative","scale":{"domain":[0,100],"range":[614,437],"nice":false,"zero":false},"axis":null}}},
 {"mark":{"type":"rule","strokeWidth":1.3},"encoding":{"x":{"datum":13394.66,"type":"quantitative","scale":{"domain":[13391.4,13394.5],"range":[471,626],"nice":false,"zero":false},"axis":null},"x2":{"datum":13394.94},"y":{"datum":0,"type":"quantitative","scale":{"domain":[0,100],"range":[614,437],"nice":false,"zero":false},"axis":null}}},
 {"mark":{"type":"text","text":"0","align":"center","baseline":"middle"},"encoding":{"x":{"datum":13395.06,"type":"quantitative","scale":{"domain":[13391.4,13394.5],"range":[471,626],"nice":false,"zero":false},"axis":null},"y":{"datum":0,"type":"quantitative","scale":{"domain":[0,100],"range":[614,437],"nice":false,"zero":false},"axis":null}}}
]}
]
}
